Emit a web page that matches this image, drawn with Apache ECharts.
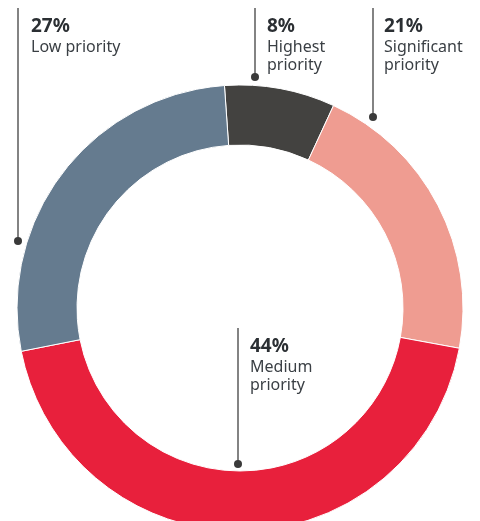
<!DOCTYPE html>
<html>
<head>
<meta charset="utf-8">
<script src="https://cdn.jsdelivr.net/npm/echarts@6/dist/echarts.min.js"></script>
<style>
  html, body { margin: 0; padding: 0; background: #fff; }
  #chart { width: 480px; height: 521px; }
</style>
</head>
<body>
<div id="chart"></div>
<script>
var names = ["Highest priority", "Significant priority", "Medium priority", "Low priority"];
var values = [8, 21, 44, 27];
var colors = ["#434240", "#ef9c91", "#e8203c", "#657b8f"];

// where each callout sits: text left, text top, leader x, line top, dot y
var callouts = [
  {tx: 267, ty: 17, lx: 255, y0: 8, y1: 77, lines: ["Highest", "priority"]},
  {tx: 384, ty: 17, lx: 373, y0: 8, y1: 117, lines: ["Significant", "priority"]},
  {tx: 250, ty: 337, lx: 238, y0: 328, y1: 464, lines: ["Medium", "priority"]},
  {tx: 31, ty: 17, lx: 18, y0: 8, y1: 241, lines: ["Low priority"]}
];

var font = '"Noto Sans", sans-serif';
var chart = echarts.init(document.getElementById('chart'));

var graphics = [];
callouts.forEach(function(c, i) {
  graphics.push({
    type: 'line', silent: true, z: 10,
    shape: {x1: c.lx, y1: c.y0, x2: c.lx, y2: c.y1},
    style: {stroke: '#5a5a5a', lineWidth: 1.5}
  });
  graphics.push({
    type: 'circle', silent: true, z: 11,
    shape: {cx: c.lx, cy: c.y1, r: 4},
    style: {fill: '#3a3a3a'}
  });
  graphics.push({
    type: 'text', silent: true, z: 11,
    style: {x: c.tx, y: c.ty, text: values[i] + '%', font: 'bold 19px ' + font, fill: '#2b2f33'}
  });
  c.lines.forEach(function(t, j) {
    graphics.push({
      type: 'text', silent: true, z: 11,
      style: {x: c.tx, y: c.ty + 22 + j * 18, text: t, font: '16px ' + font, fill: '#3a3f44'}
    });
  });
});

var data = names.map(function(n, i) {
  return {name: n, value: values[i], itemStyle: {color: colors[i]}};
});

chart.setOption({
  animation: false,
  series: [{
    type: 'pie',
    center: [240, 308],
    radius: [163, 223],
    startAngle: 94,
    clockwise: true,
    silent: true,
    label: {show: false},
    labelLine: {show: false},
    itemStyle: {borderColor: '#ffffff', borderWidth: 1},
    data: data
  }],
  graphic: graphics
});
</script>
</body>
</html>
